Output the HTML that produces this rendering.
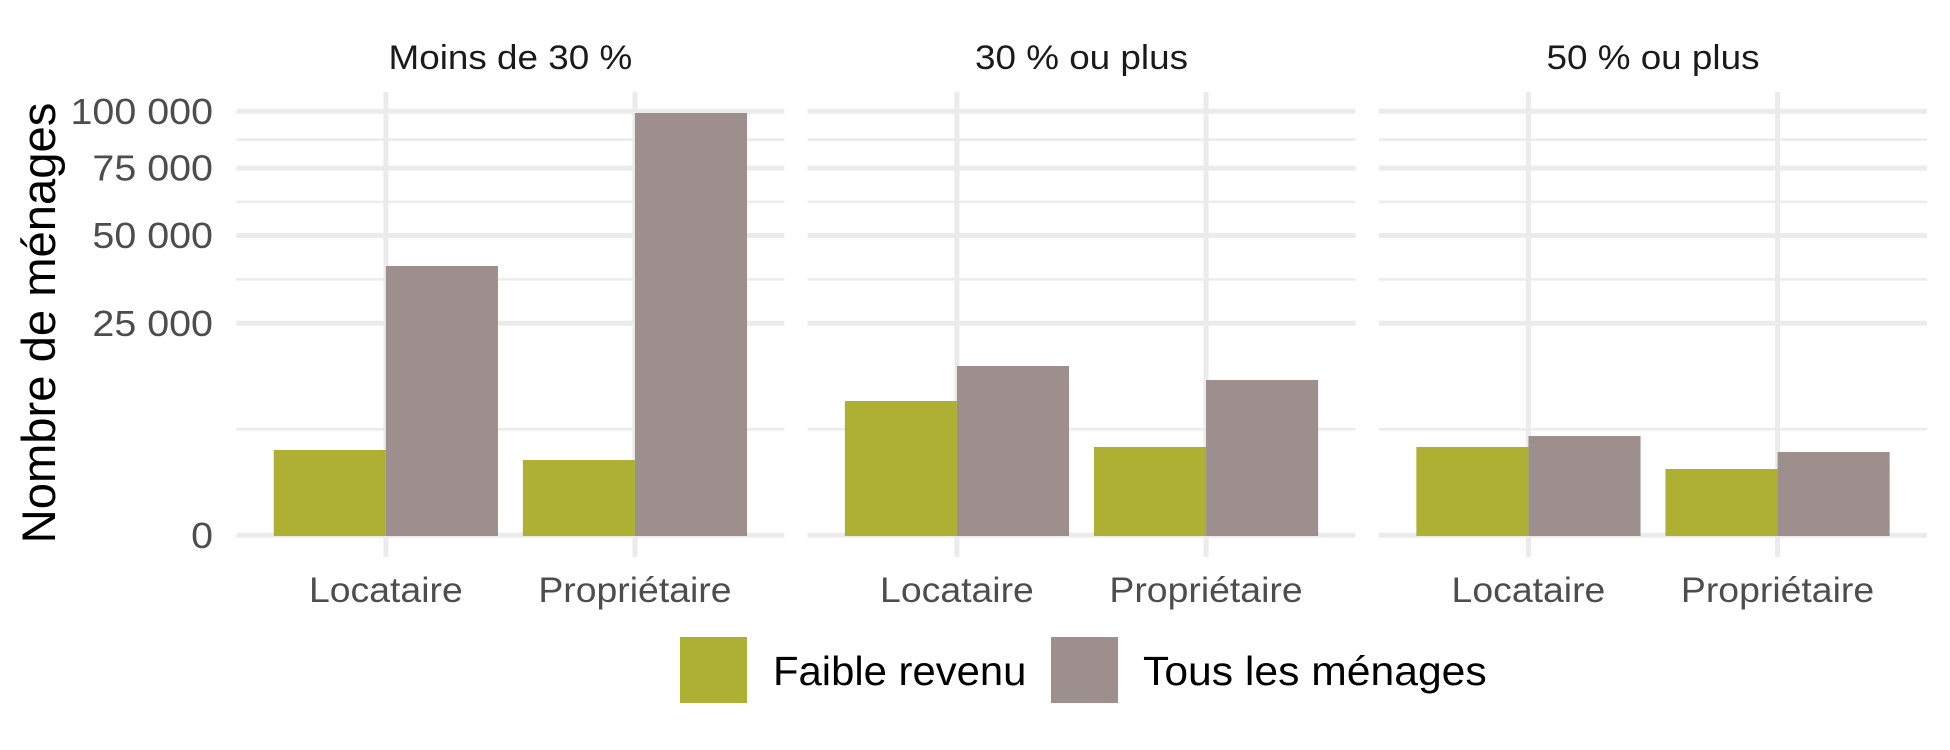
<!DOCTYPE html>
<html lang="fr">
<head>
<meta charset="utf-8">
<title>Nombre de ménages</title>
<style>
html,body{margin:0;padding:0;background:#fff;width:1950px;height:750px;overflow:hidden}
svg{display:block}
text{font-family:"Liberation Sans",sans-serif}
</style>
</head>
<body>
<svg id="chart" xmlns="http://www.w3.org/2000/svg" width="1950" height="750" viewBox="0 0 1950 750"></svg>
<script>
const panelTitles = ["Moins de 30 %", "30 % ou plus", "50 % ou plus"];
const categories = ["Locataire", "Propriétaire"];
const seriesNames = ["Faible revenu", "Tous les ménages"];
const lowIncomeValues = [[4047, 3155], [10036, 4339], [4339, 2447]];
const allHouseholdValues = [[40340, 99200], [15943, 13420], [5485, 3860]];
const majorTicks = [0, 25000, 50000, 75000, 100000];
const minorTicks = [6250, 36427, 61860, 87060];
const tickLabels = ["0", "25 000", "50 000", "75 000", "100 000"];

const SVG_NS = "http://www.w3.org/2000/svg";
const svg = document.getElementById("chart");
const GREEN = "#aeb033";
const TAUPE = "#9e8f8f";
const GRID = "#ebebeb";
const panelLefts = [236.4, 807.5, 1379];
const panelWidth = 548;
const plotTop = 92;
const plotBottom = 557;
const yScale = v => 535.3 - 1.3408 * Math.sqrt(v);
const xScale = (left, pos) => left + (pos + 0.6) * panelWidth / 2.2;
const halfBar = 0.45 * panelWidth / 2.2;

function add(parent, tag, attrs) {
  const el = document.createElementNS(SVG_NS, tag);
  for (const k in attrs) el.setAttribute(k, attrs[k]);
  parent.appendChild(el);
  return el;
}
function label(parent, x, y, str, size, fill, anchor, stretch) {
  const el = add(parent, "text", {x: x, y: y, "font-size": size, fill: fill, "text-anchor": anchor});
  el.textContent = str;
  const w = el.getComputedTextLength();
  el.setAttribute("textLength", (w * stretch).toFixed(1));
  el.setAttribute("lengthAdjust", "spacingAndGlyphs");
  return el;
}

panelTitles.forEach((title, p) => {
  const left = panelLefts[p];
  const g = add(svg, "g", {});
  
  

  minorTicks.forEach(v => {
    const line = add(g, "line", {x1: left, x2: left + panelWidth, y1: yScale(v), y2: yScale(v), stroke: GRID, "stroke-width": 2.5});
    
    
  });
  majorTicks.forEach(v => {
    const line = add(g, "line", {x1: left, x2: left + panelWidth, y1: yScale(v), y2: yScale(v), stroke: GRID, "stroke-width": 5});
    
    
  });
  categories.forEach((cat, c) => {
    const cx = xScale(left, c);
    const line = add(g, "line", {x1: cx, x2: cx, y1: plotTop, y2: plotBottom, stroke: GRID, "stroke-width": 5});
    
    
  });
  categories.forEach((cat, c) => {
    const cx = xScale(left, c);
    const lowY = yScale(lowIncomeValues[p][c]);
    const low = add(g, "rect", {x: cx - halfBar, y: lowY, width: halfBar, height: 536 - lowY, fill: GREEN});
    
    
    const allY = yScale(allHouseholdValues[p][c]);
    const all = add(g, "rect", {x: cx, y: allY, width: halfBar, height: 536 - allY, fill: TAUPE});
    
    
    const tick = label(g, cx, 602, cat, 35, "#4d4d4d", "middle", 1.068);
    
    
  });
  const strip = label(g, left + panelWidth / 2, 69, title, 34.5, "#1a1a1a", "middle", 1.068);
  
  
});

majorTicks.forEach((v, i) => {
  const t = label(svg, 213, yScale(v) + 12.5, tickLabels[i], 36, "#4d4d4d", "end", 1.095);
  
  
});

const yTitle = add(svg, "text", {x: 0, y: 0, "font-size": 47.2, fill: "#000", "text-anchor": "middle", transform: "translate(55 323) rotate(-90)"});
yTitle.textContent = "Nombre de ménages";



const swatch1 = add(svg, "rect", {x: 680, y: 637, width: 67, height: 66, fill: GREEN});


const legend1 = label(svg, 773, 685, seriesNames[0], 41, "#000", "start", 1.02);


const swatch2 = add(svg, "rect", {x: 1051, y: 637, width: 67, height: 66, fill: TAUPE});


const legend2 = label(svg, 1143, 685, seriesNames[1], 41, "#000", "start", 1.04);


</script>
</body>
</html>
